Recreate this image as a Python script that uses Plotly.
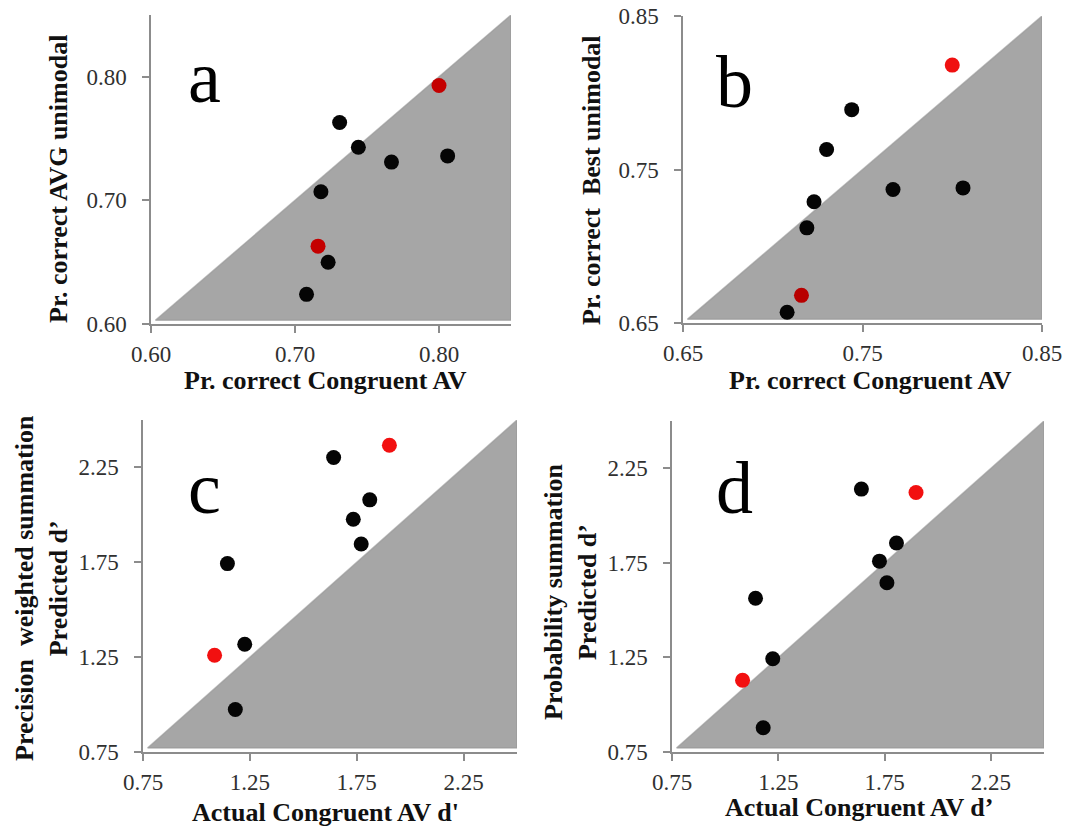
import plotly.graph_objects as go

# ---------------- data ----------------
a_black_x = [0.731, 0.744, 0.767, 0.806, 0.718, 0.723, 0.708]
a_black_y = [0.763, 0.743, 0.731, 0.736, 0.707, 0.650, 0.624]
a_red_x = [0.800, 0.716]
a_red_y = [0.793, 0.663]

b_black_x = [0.744, 0.730, 0.767, 0.806, 0.723, 0.719, 0.708]
b_black_y = [0.789, 0.763, 0.737, 0.738, 0.729, 0.712, 0.657]
b_red_x = [0.800, 0.716]
b_red_y = [0.818, 0.668]

c_black_x = [1.642, 1.811, 1.734, 1.771, 1.145, 1.226, 1.182]
c_black_y = [2.302, 2.079, 1.977, 1.846, 1.743, 1.318, 0.974]
c_red_x = [1.903, 1.085]
c_red_y = [2.367, 1.260]

d_black_x = [1.641, 1.806, 1.726, 1.761, 1.143, 1.224, 1.179]
d_black_y = [2.140, 1.855, 1.759, 1.645, 1.563, 1.243, 0.878]
d_red_x = [1.898, 1.082]
d_red_y = [2.122, 1.129]

a_ticks = [0.60, 0.70, 0.80]
a_ticklabels = ["0.60", "0.70", "0.80"]
b_ticks = [0.65, 0.75, 0.85]
b_ticklabels = ["0.65", "0.75", "0.85"]
cd_ticks = [0.75, 1.25, 1.75, 2.25]
cd_ticklabels = ["0.75", "1.25", "1.75", "2.25"]

a_range = [0.60, 0.85]
b_range = [0.65, 0.85]
cd_range = [0.75, 2.5]

panel_letters = ["a", "b", "c", "d"]
x_titles = ["Pr. correct Congruent AV", "Pr. correct Congruent AV",
            "Actual Congruent AV d'", "Actual Congruent AV d\u2019"]
y_titles = ["Pr. correct AVG unimodal", "Pr. correct  Best unimodal",
            "Precision  weighted summation<br>Predicted d\u2019",
            "Probability summation<br>Predicted d\u2019"]

# ---------------- layout geometry (screen pixels) ----------------
OFF = 8                      # page body margin
W, H = 1075 - OFF, 828 - OFF  # figure size so it ends at the window edge
def px(x):
    return (x - OFF) / W
def py(y):
    return 1 - (y - OFF) / H

panels = [
    dict(blk=(a_black_x, a_black_y), red=(a_red_x, a_red_y), rng=a_range,
         ticks=a_ticks, labels=a_ticklabels, box=(151, 511, 15, 324),
         redcol=["#c40000", "#c40000"],
         letter=(204, 77), xt=(325, 381), yt=(59, 179)),
    dict(blk=(b_black_x, b_black_y), red=(b_red_x, b_red_y), rng=b_range,
         ticks=b_ticks, labels=b_ticklabels, box=(683, 1042, 16, 323),
         redcol=["#f01010", "#b80000"],
         letter=(734, 82), xt=(870, 381), yt=(592, 180)),
    dict(blk=(c_black_x, c_black_y), red=(c_red_x, c_red_y), rng=cd_range,
         ticks=cd_ticks, labels=cd_ticklabels, box=(143, 517, 420, 752),
         redcol=["#f21010", "#f21010"],
         letter=(204, 488), xt=(325, 812), yt=(41, 588)),
    dict(blk=(d_black_x, d_black_y), red=(d_red_x, d_red_y), rng=cd_range,
         ticks=cd_ticks, labels=cd_ticklabels, box=(672, 1044, 421, 752),
         redcol=["#f21010", "#f21010"],
         letter=(734, 488), xt=(859, 807), yt=(570, 592)),
]

FONT = "Liberation Serif, Times New Roman, serif"
fig = go.Figure()
annotations = []
layout_axes = {}

for i, p in enumerate(panels):
    n = "" if i == 0 else str(i + 1)
    xa, ya = "x" + n, "y" + n
    lo, hi = p["rng"]
    inset = 0.012 * (hi - lo)
    # shaded region below the identity line
    fig.add_trace(go.Scatter(
        x=[lo + inset, hi, hi, lo + inset], y=[lo + inset, lo + inset, hi, lo + inset],
        fill="toself", fillcolor="#a6a6a6", mode="lines",
        line=dict(width=1.5, color="rgba(150,150,150,0.6)"),
        xaxis=xa, yaxis=ya, hoverinfo="skip", showlegend=False))
    fig.add_trace(go.Scatter(
        x=p["blk"][0], y=p["blk"][1], mode="markers",
        marker=dict(size=15, color="#050505", line=dict(width=0)),
        xaxis=xa, yaxis=ya, showlegend=False, cliponaxis=False))
    fig.add_trace(go.Scatter(
        x=p["red"][0], y=p["red"][1], mode="markers",
        marker=dict(size=15, color=p["redcol"], line=dict(width=0)),
        xaxis=xa, yaxis=ya, showlegend=False, cliponaxis=False))

    x0, x1, y0, y1 = p["box"]
    common = dict(
        showgrid=False, zeroline=False, showline=True, linecolor="#8c8c8c",
        linewidth=1.5, ticks="outside", ticklen=7, tickwidth=1.5,
        tickcolor="#8c8c8c", tickmode="array", tickvals=p["ticks"],
        ticktext=p["labels"], range=[lo, hi], fixedrange=True, automargin=False,
        ticklabeloverflow="allow",
        tickfont=dict(family=FONT, size=23, color="#303030"),
    )
    layout_axes["xaxis" + n] = dict(common, domain=[px(x0), px(x1)], anchor=ya,
                                    ticklabelstandoff=2)
    layout_axes["yaxis" + n] = dict(common, domain=[py(y1), py(y0)], anchor=xa,
                                    ticklabelstandoff=11)

    annotations.append(dict(
        x=px(p["letter"][0]), y=py(p["letter"][1]), xref="paper", yref="paper",
        text=panel_letters[i], showarrow=False, xanchor="center", yanchor="middle",
        font=dict(family=FONT, size=74, color="#000000")))
    annotations.append(dict(
        x=px(p["xt"][0]), y=py(p["xt"][1]), xref="paper", yref="paper",
        text="<b>" + x_titles[i] + "</b>", showarrow=False,
        xanchor="center", yanchor="middle",
        font=dict(family=FONT, size=26, color="#111111")))
    annotations.append(dict(
        x=px(p["yt"][0]), y=py(p["yt"][1]), xref="paper", yref="paper",
        text="<b>" + y_titles[i] + "</b>", showarrow=False, textangle=-90,
        xanchor="center", yanchor="middle",
        font=dict(family=FONT, size=26, color="#111111")))

fig.update_layout(
    width=W, height=H, margin=dict(l=0, r=0, t=0, b=0, autoexpand=False),
    paper_bgcolor="white", plot_bgcolor="white",
    annotations=annotations, showlegend=False, **layout_axes)

fig.write_html("out.html")
